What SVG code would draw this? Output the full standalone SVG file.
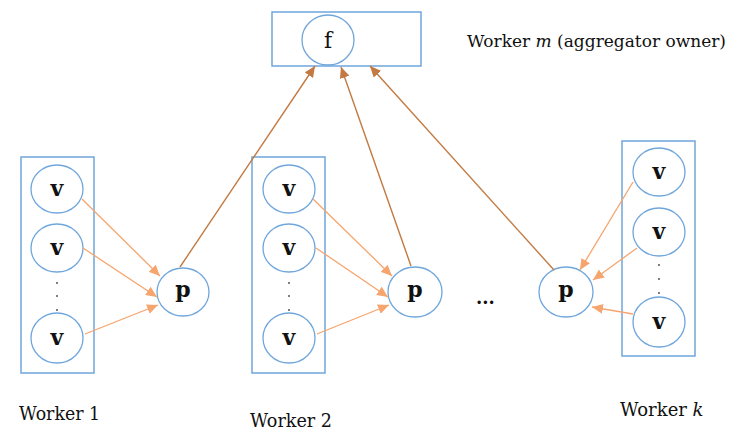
<svg xmlns="http://www.w3.org/2000/svg" width="737" height="441" viewBox="0 0 737 441">
<style>
.box{fill:none;stroke:#6fa6dc;stroke-width:1.5}
.nd{fill:#fff;stroke:#6fa6dc;stroke-width:1.3}
.lbl{font-family:'DejaVu Serif',serif;font-size:22px;font-weight:bold;text-anchor:middle;fill:#111}
.cap{font-family:'DejaVu Serif',serif;font-size:18px;fill:#111}
.lt{stroke:#f6a56e;stroke-width:1.3;fill:none}
.dk{stroke:#c27a42;stroke-width:1.4;fill:none}
.dot{fill:#444}
</style>
<defs>
<marker id="al" markerUnits="userSpaceOnUse" markerWidth="12" markerHeight="10" refX="11" refY="5" orient="auto"><path d="M0,0 L11,5 L0,10 z" fill="#f6a56e"/></marker>
<marker id="ad" markerUnits="userSpaceOnUse" markerWidth="12" markerHeight="10" refX="11" refY="5" orient="auto"><path d="M0,0 L11,5 L0,10 z" fill="#c27a42"/></marker>
</defs>

<g id="aggregator">
<rect class="box" x="272" y="12" width="149" height="54"/>
<ellipse class="nd" cx="328" cy="40" rx="26" ry="25" style="fill:none"/>
<text class="lbl" x="328" y="48" style="font-weight:normal">f</text>
<text class="cap" x="467" y="47" style="font-size:17px">Worker <tspan font-style="italic">m</tspan> (aggregator owner)</text>
</g>

<g id="worker1">
<rect class="box" x="21" y="157" width="73" height="216"/>
<ellipse class="nd" cx="57" cy="189" rx="26" ry="24"/>
<text class="lbl" x="57" y="196">v</text>
<ellipse class="nd" cx="57" cy="248" rx="26" ry="24"/>
<text class="lbl" x="57" y="255">v</text>
<circle class="dot" cx="57" cy="283" r="0.9"/>
<circle class="dot" cx="57" cy="296" r="0.9"/>
<circle class="dot" cx="57" cy="310" r="0.9"/>
<ellipse class="nd" cx="57" cy="338" rx="26" ry="25"/>
<text class="lbl" x="57" y="345">v</text>
<text class="cap" x="19" y="420" textLength="81" lengthAdjust="spacingAndGlyphs">Worker 1</text>
</g>
<g id="p1">
<ellipse class="nd" cx="183" cy="292" rx="26" ry="24"/>
<text class="lbl" x="183" y="297">p</text>
</g>

<g id="worker2">
<rect class="box" x="252" y="157" width="73" height="216"/>
<ellipse class="nd" cx="289" cy="189" rx="26" ry="24"/>
<text class="lbl" x="289" y="196">v</text>
<ellipse class="nd" cx="289" cy="248" rx="26" ry="24"/>
<text class="lbl" x="289" y="255">v</text>
<circle class="dot" cx="289" cy="283" r="0.9"/>
<circle class="dot" cx="289" cy="296" r="0.9"/>
<circle class="dot" cx="289" cy="310" r="0.9"/>
<ellipse class="nd" cx="289" cy="338" rx="26" ry="25"/>
<text class="lbl" x="289" y="345">v</text>
<text class="cap" x="250" y="427" textLength="82" lengthAdjust="spacingAndGlyphs">Worker 2</text>
</g>
<g id="p2">
<ellipse class="nd" cx="415" cy="292" rx="27" ry="25"/>
<text class="lbl" x="415" y="297">p</text>
</g>

<g id="ellipsis">
<text class="cap" x="476" y="304" style="font-weight:bold">...</text>
</g>

<g id="workerk">
<rect class="box" x="622" y="141" width="73" height="215"/>
<ellipse class="nd" cx="659" cy="172" rx="26" ry="24"/>
<text class="lbl" x="659" y="179">v</text>
<ellipse class="nd" cx="659" cy="232" rx="26" ry="24"/>
<text class="lbl" x="659" y="239">v</text>
<circle class="dot" cx="659" cy="265" r="0.9"/>
<circle class="dot" cx="659" cy="279" r="0.9"/>
<circle class="dot" cx="659" cy="293" r="0.9"/>
<ellipse class="nd" cx="659" cy="322" rx="26" ry="25"/>
<text class="lbl" x="659" y="329">v</text>
<text class="cap" x="620" y="416">Worker <tspan font-style="italic">k</tspan></text>
</g>
<g id="pk">
<ellipse class="nd" cx="566" cy="292" rx="27" ry="25"/>
<text class="lbl" x="566" y="297">p</text>
</g>

<g id="connectors">
<line class="lt" x1="82" y1="199" x2="160" y2="276" marker-end="url(#al)"/>
<line class="lt" x1="83" y1="248" x2="157" y2="297" marker-end="url(#al)"/>
<line class="lt" x1="85" y1="334" x2="158" y2="305" marker-end="url(#al)"/>
<line class="lt" x1="313" y1="199" x2="392" y2="276" marker-end="url(#al)"/>
<line class="lt" x1="316" y1="248" x2="388" y2="297" marker-end="url(#al)"/>
<line class="lt" x1="317" y1="334" x2="389" y2="305" marker-end="url(#al)"/>
<line class="lt" x1="633" y1="182" x2="580" y2="270" marker-end="url(#al)"/>
<line class="lt" x1="637" y1="248" x2="593" y2="280" marker-end="url(#al)"/>
<line class="lt" x1="633" y1="314" x2="592" y2="307" marker-end="url(#al)"/>
<line class="dk" x1="180" y1="267" x2="315" y2="66" marker-end="url(#ad)"/>
<line class="dk" x1="411" y1="266" x2="341" y2="67" marker-end="url(#ad)"/>
<line class="dk" x1="554" y1="270" x2="370" y2="66" marker-end="url(#ad)"/>
</g>
</svg>
